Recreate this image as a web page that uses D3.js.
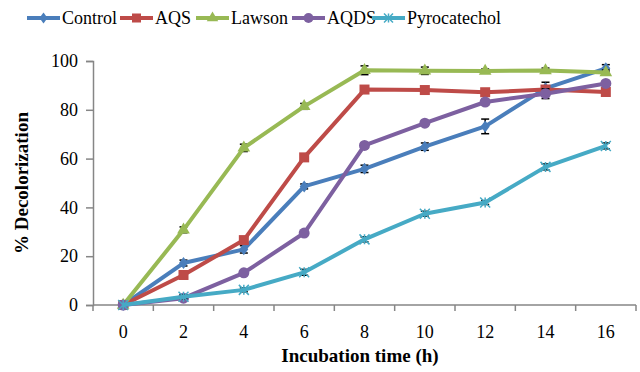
<!DOCTYPE html>
<html>
<head>
<meta charset="utf-8">
<script src="https://cdn.jsdelivr.net/npm/d3@7"></script>
<style>
  body { margin: 0; background: #fff; }
</style>
</head>
<body>
<svg id="chart" width="640" height="372" font-family="'Liberation Serif', 'Times New Roman', serif"></svg>
<script>
const hours = ['0', '2', '4', '6', '8', '10', '12', '14', '16'];
const yTicks = [0, 20, 40, 60, 80, 100];

const seriesNames = ['Control', 'AQS', 'Lawson', 'AQDS', 'Pyrocatechol'];
const seriesColors = ['#4a7ebb', '#be4b48', '#98b954', '#7d60a0', '#46aac5'];
const seriesMarkers = ['diamond', 'square', 'triangle', 'circle', 'asterisk'];

const control = [0, 17.2, 22.8, 48.6, 55.8, 64.9, 73.2, 88.8, 97.0];
const aqs = [0, 12.3, 26.6, 60.5, 88.3, 88.1, 87.2, 88.3, 87.3];
const lawson = [0, 30.8, 64.4, 81.4, 96.2, 96.0, 95.9, 96.1, 95.3];
const aqds = [0, 2.8, 13.2, 29.5, 65.4, 74.5, 83.2, 86.6, 90.8];
const pyrocatechol = [0, 3.4, 6.2, 13.4, 26.9, 37.4, 42.0, 56.6, 65.2];

const controlErr = [0, 1.2, 1.5, 1.0, 1.5, 1.5, 3.0, 2.5, 1.5];
const aqsErr = [0, 0.8, 1.0, 1.0, 1.2, 1.0, 1.0, 1.5, 1.0];
const lawsonErr = [0, 1.2, 1.5, 1.2, 1.8, 1.5, 0.8, 1.0, 1.0];
const aqdsErr = [0, 0.5, 0.8, 0.8, 1.0, 1.0, 1.2, 2.0, 1.0];
const pyroErr = [0, 0.8, 0.8, 1.2, 1.0, 1.0, 0.8, 1.2, 1.2];

const seriesValues = [control, aqs, lawson, aqds, pyrocatechol];
const seriesErrors = [controlErr, aqsErr, lawsonErr, aqdsErr, pyroErr];

const serif = "'Liberation Serif', 'Times New Roman', serif";
const svg = d3.select('#chart');
const margin = {top: 61, right: 4, bottom: 67, left: 93};
const width = 640 - margin.left - margin.right;
const height = 372 - margin.top - margin.bottom;

const g = svg.append('g').attr('transform', `translate(${margin.left},${margin.top})`);

const x = d3.scaleBand().domain(hours).range([0, width]);
const y = d3.scaleLinear().domain([0, 100]).range([height, 0]);
const cx = d => x(d) + x.bandwidth() / 2;

// x axis: ticks between categories
const xAxis = g.append('g').attr('transform', `translate(0,${height})`);
xAxis.append('line').attr('x1', 0).attr('x2', width).attr('stroke', '#868686').attr('stroke-width', 1.5);
xAxis.selectAll('.tk').data(d3.range(hours.length + 1)).join('line')
    .attr('x1', i => i * x.step()).attr('x2', i => i * x.step())
    .attr('y1', 0).attr('y2', 6).attr('stroke', '#868686').attr('stroke-width', 1.5);
xAxis.selectAll('text').data(hours).join('text')
    .attr('x', d => cx(d)).attr('y', 33)
    .attr('text-anchor', 'middle').attr('font-size', 18).attr('fill', '#000')
    .attr('font-family', serif)
    .text(d => d);

// y axis
const yAxis = g.append('g')
    .call(d3.axisLeft(y).tickValues(yTicks).tickSize(7).tickPadding(8))
    .attr('font-family', serif);
yAxis.select('.domain').attr('stroke', '#868686').attr('stroke-width', 1.5);
yAxis.selectAll('.tick line').attr('stroke', '#868686').attr('stroke-width', 1.5);
yAxis.selectAll('.tick text').attr('font-size', 18).attr('fill', '#000');

// titles
svg.append('text').attr('x', 360).attr('y', 362).attr('text-anchor', 'middle')
    .attr('font-family', serif)
    .attr('font-size', 19).attr('font-weight', 'bold').text('Incubation time (h)');
svg.append('text').attr('transform', 'translate(28,183) rotate(-90)').attr('text-anchor', 'middle')
    .attr('font-family', serif)
    .attr('font-size', 19).attr('font-weight', 'bold').text('% Decolorization');

function marker(sel, type, color, s) {
    if (type === 'circle') {
        sel.append('circle').attr('r', s * 0.55).attr('fill', color);
    } else if (type === 'square') {
        sel.append('rect').attr('x', -s / 2).attr('y', -s / 2).attr('width', s).attr('height', s).attr('fill', color);
    } else if (type === 'triangle') {
        sel.append('path').attr('d', d3.symbol(d3.symbolTriangle, s * s * 0.7)()).attr('fill', color);
    } else if (type === 'diamond') {
        sel.append('path').attr('d', `M0,${-s * 0.6}L${s * 0.45},0L0,${s * 0.6}L${-s * 0.45},0Z`).attr('fill', color);
    } else {
        const r = s * 0.5;
        sel.append('path')
            .attr('d', `M${-r},${-r}L${r},${r}M${-r},${r}L${r},${-r}M0,${-r}L0,${r}`)
            .attr('stroke', color).attr('stroke-width', 1.5).attr('fill', 'none');
    }
}

const line = d3.line().x((d, i) => cx(hours[i])).y(d => y(d));

seriesValues.forEach((vals, k) => {
    const color = seriesColors[k];
    const errs = seriesErrors[k];
    const sg = g.append('g');
    // error bars
    vals.forEach((v, i) => {
        if (!errs[i]) return;
        const px = cx(hours[i]);
        const eg = sg.append('g').attr('stroke', '#000').attr('stroke-width', 1.5);
        eg.append('line').attr('x1', px).attr('x2', px).attr('y1', y(v - errs[i])).attr('y2', y(v + errs[i]));
        [v - errs[i], v + errs[i]].forEach(e => {
            eg.append('line').attr('x1', px - 4).attr('x2', px + 4).attr('y1', y(e)).attr('y2', y(e));
        });
    });
    sg.append('path').datum(vals).attr('d', line)
        .attr('fill', 'none').attr('stroke', color).attr('stroke-width', 4)
        .attr('stroke-linejoin', 'round');
    vals.forEach((v, i) => {
        const mg = sg.append('g').attr('transform', `translate(${cx(hours[i])},${y(v)})`);
        marker(mg, seriesMarkers[k], color, 10);
    });
});

// legend
const legendX = [27, 120, 196, 292, 372];
const legend = svg.append('g');
seriesNames.forEach((name, k) => {
    const lg = legend.append('g').attr('transform', `translate(${legendX[k]},18)`);
    lg.append('line').attr('x1', 0).attr('x2', 33).attr('stroke', seriesColors[k]).attr('stroke-width', 4);
    const mg = lg.append('g').attr('transform', 'translate(16.5,0)');
    marker(mg, seriesMarkers[k], seriesColors[k], 9);
    lg.append('text').attr('x', 35).attr('y', 6).attr('font-size', 18)
        .attr('font-family', serif).text(name);
});
</script>
</body>
</html>
